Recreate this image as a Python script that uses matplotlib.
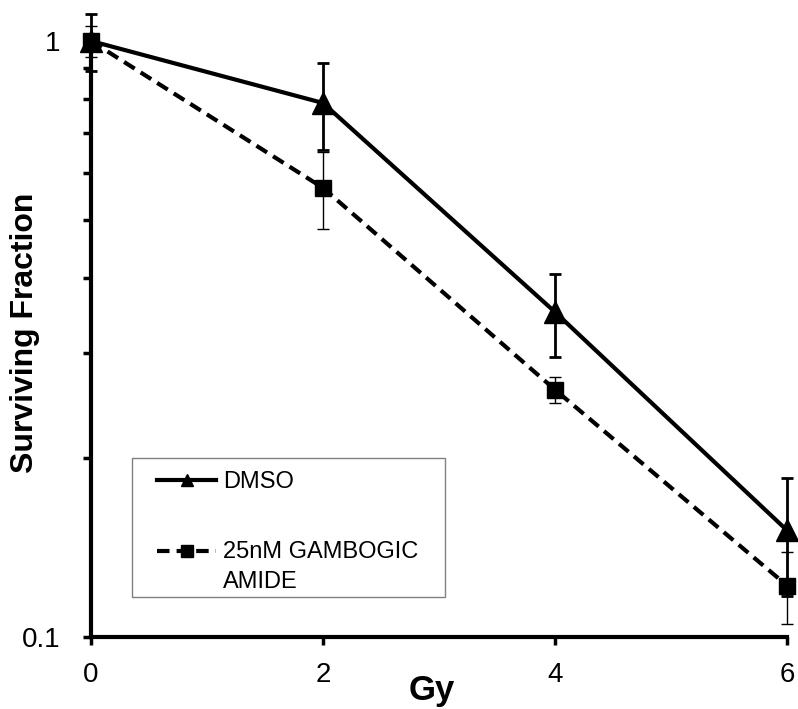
import matplotlib
matplotlib.use("Agg")
import matplotlib.pyplot as plt
from matplotlib.lines import Line2D
from matplotlib.patches import Rectangle
from matplotlib.legend_handler import HandlerLine2D
from matplotlib.ticker import FixedLocator, NullFormatter, FixedFormatter

plt.rcParams['font.family'] = ['Liberation Sans', 'DejaVu Sans']

doses = [0, 2, 4, 6]
dmso = [1.0, 0.787, 0.351, 0.151]
dmso_err = [0.11, 0.13, 0.056, 0.034]
ga = [1.0, 0.567, 0.26, 0.122]
ga_err = [0.06, 0.084, 0.013, 0.017]
labels = ["DMSO", "25nM GAMBOGIC\nAMIDE"]
xticks = [0, 2, 4, 6]
yticks = [0.1, 1]
yticklabels = ["0.1", "1"]


class HandlerTopLine(HandlerLine2D):
    """Align the handle with the first line of a two-line label."""
    def __init__(self, shift, **kw):
        super().__init__(**kw)
        self.shift = shift

    def create_artists(self, legend, orig_handle, xdescent, ydescent, width,
                       height, fontsize, trans):
        return super().create_artists(legend, orig_handle, xdescent,
                                      ydescent - 2 * self.shift, width,
                                      height, fontsize, trans)


W, H = 798, 709
fig = plt.figure(figsize=(W / 100, H / 100), dpi=100)
ax = fig.add_axes([91 / W, 1 - 637 / H, 696 / W, 596 / H])

e1 = ax.errorbar(doses, dmso, yerr=dmso_err, fmt='none', ecolor='black',
                 elinewidth=2, capsize=4.5, capthick=2, zorder=3)
e2 = ax.errorbar(doses, ga, yerr=ga_err, fmt='none', ecolor='black',
                 elinewidth=1, capsize=4.5, capthick=1, zorder=3)
for c in (e1, e2):
    for art in list(c.lines[1]) + list(c.lines[2]):
        art.set_clip_on(False)

l1, = ax.plot(doses, dmso, color='black', lw=3, marker='^', markersize=16,
              clip_on=False, zorder=4)
l2, = ax.plot(doses, ga, color='black', lw=3, marker='s', markersize=12,
              clip_on=False, zorder=4)
l2.set_dashes((3, 1.7))

ax.set_yscale('log')
ax.set_ylim(0.1, 1)
ax.set_xlim(0, 6)
ax.set_xticks(xticks)
ax.set_xticklabels([str(t) for t in xticks])
ax.yaxis.set_major_locator(FixedLocator(yticks))
ax.yaxis.set_major_formatter(FixedFormatter(yticklabels))
ax.yaxis.set_minor_locator(FixedLocator([0.2, 0.3, 0.4, 0.5, 0.6, 0.7, 0.8, 0.9]))
ax.yaxis.set_minor_formatter(NullFormatter())

for s in ['top', 'right']:
    ax.spines[s].set_visible(False)
for s in ['left', 'bottom']:
    ax.spines[s].set_linewidth(3)

ax.tick_params(axis='both', which='major', direction='out', length=6, width=2.5,
               labelsize=20, color='black')
ax.tick_params(axis='y', which='major', pad=16)
ax.tick_params(axis='x', which='major', pad=12)
ax.tick_params(axis='y', which='minor', direction='out', length=6, width=2.5)

ax.set_ylabel("Surviving Fraction", fontsize=23, fontweight='bold')
ax.yaxis.set_label_coords(-0.073, 0.51)
ax.set_xlabel("Gy", fontsize=25, fontweight='bold')
ax.xaxis.set_label_coords(0.49, -0.062)

# legend
h1 = Line2D([], [], color='black', lw=3, marker='^', markersize=9)
h2 = Line2D([], [], color='black', lw=3, marker='s', markersize=8)
h2.set_dashes((3, 1.7))
leg = fig.legend([h1, h2], labels, loc='upper left',
                 bbox_to_anchor=(157 / W, 1 - 471 / H), frameon=False,
                 fontsize=17, handlelength=2.5, handletextpad=0.3,
                 labelspacing=2.05, borderpad=0, borderaxespad=0,
                 handler_map={h2: HandlerTopLine(shift=11.6)})
for t in leg.get_texts():
    t.set_linespacing(1.45)
fig.patches.append(Rectangle((132 / W, 1 - 597 / H), 313 / W, 139 / H,
                             transform=fig.transFigure, fill=False,
                             edgecolor='#808080', lw=1))

fig.savefig("out.png", dpi=100)
